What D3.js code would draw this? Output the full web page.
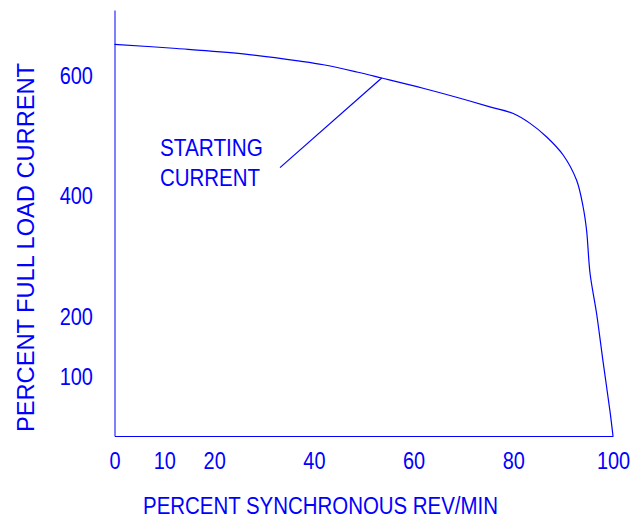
<!DOCTYPE html>
<html>
<head>
<meta charset="utf-8">
<script src="https://cdn.jsdelivr.net/npm/d3@7"></script>
<style>
  body { margin: 0; background: #fff; }
  text { font-family: "Liberation Sans", Arial, sans-serif; fill: #0000ff; }
</style>
</head>
<body>
<svg id="root" width="630" height="518"></svg>
<script>
// speed (percent of synchronous) vs starting current (percent of full load)
const speed = [0, 12.5, 25.8, 37.2, 41.9, 48.6, 53.6, 61.9, 68.6, 75.3, 80, 83.3, 86.7, 90, 92.7, 94, 94.7, 95.4, 96.7, 98, 99.4, 100];
const current = [651, 644, 635, 623, 617, 605, 595, 578, 563, 547, 536, 520, 497, 467, 425, 381, 342, 270, 204, 124, 41, 0];

const xTicks = [0, 10, 20, 40, 60, 80, 100];
const yTicks = [100, 200, 400, 600];

const xTitle = "PERCENT SYNCHRONOUS REV/MIN";
const yTitle = "PERCENT FULL LOAD CURRENT";
const noteLines = ["STARTING", "CURRENT"];
// leader line from the note to the curve
const leaderX = [33.2, 53.6];
const leaderY = [446, 595];

const main = () => {
    const svg = d3.select("#root");
    const blue = "#0000ff";

    const x = d3.scaleLinear().domain([0, 100]).range([114.5, 613]);
    const y = d3.scaleLinear().domain([0, 708]).range([436, 10]);

    // x axis
    svg.append("g")
        .attr("transform", "translate(0,436)")
        .call(d3.axisBottom(x).tickValues(xTicks).tickSize(0).tickSizeOuter(0))
        .call((g) => g.select(".domain").attr("stroke", blue))
        .call((g) =>
            g.selectAll("text")
                .attr("y", 33)
                .attr("dy", 0)
                .attr("font-size", 24)
                .attr("transform", "scale(0.83,1)")
                .style("fill", blue)
        );

    // y axis
    svg.append("g")
        .attr("transform", "translate(114.5,0)")
        .call(d3.axisLeft(y).tickValues(yTicks).tickSize(0).tickSizeOuter(0))
        .call((g) => g.select(".domain").attr("stroke", blue))
        .call((g) =>
            g.selectAll("text")
                .attr("x", -26)
                .attr("dy", "0.35em")
                .attr("font-size", 24)
                .attr("transform", "scale(0.83,1)")
                .style("fill", blue)
        );
    svg.selectAll(".domain").attr("fill", "none");

    // curve
    const pts = speed.map((s, i) => [s, current[i]]);
    svg.append("path")
        .datum(pts)
        .attr("fill", "none")
        .attr("stroke", blue)
        .attr("stroke-width", 1.2)
        .attr("d", d3.line()
            .x((d) => x(d[0]))
            .y((d) => y(d[1]))
            .curve(d3.curveCatmullRom.alpha(0.5)));

    // leader
    svg.append("line")
        .attr("x1", x(leaderX[0]))
        .attr("y1", y(leaderY[0]))
        .attr("x2", x(leaderX[1]))
        .attr("y2", y(leaderY[1]))
        .attr("stroke", blue)
        .attr("stroke-width", 1.2);

    svg.selectAll(".note")
        .data(noteLines)
        .join("text")
        .attr("class", "note")
        .attr("x", 160)
        .attr("y", (d, i) => 156 + i * 30)
        .attr("font-size", 24)
        .attr("textLength", (d, i) => (i == 0 ? 103 : 100))
        .attr("lengthAdjust", "spacingAndGlyphs")
        .text((d) => d);

    // titles
    svg.append("text")
        .attr("x", 143)
        .attr("y", 514)
        .attr("font-size", 23)
        .attr("textLength", 355)
        .attr("lengthAdjust", "spacingAndGlyphs")
        .text(xTitle);

    svg.append("text")
        .attr("transform", "translate(34,432) rotate(-90)")
        .attr("font-size", 24)
        .attr("textLength", 369)
        .attr("lengthAdjust", "spacingAndGlyphs")
        .text(yTitle);
};

main();
</script>
</body>
</html>
